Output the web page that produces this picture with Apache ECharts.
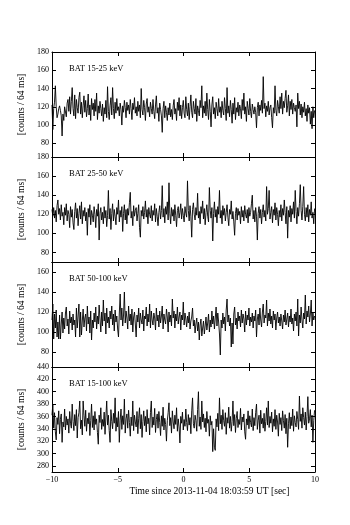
<!DOCTYPE html>
<html>
<head>
<meta charset="utf-8">
<script src="https://cdn.jsdelivr.net/npm/echarts@6/dist/echarts.min.js"></script>
<style>
  html,body{margin:0;padding:0;background:#fff;}
  #chart{width:350px;height:525px;}
</style>
</head>
<body>
<div id="chart"></div>
<script>
// light curve bins, 64 ms each, starting at -10 s
var binStart = -10;
var binWidth = 0.064;

var bands = ['BAT 15-25 keV', 'BAT 25-50 keV', 'BAT 50-100 keV', 'BAT 15-100 keV'];

var counts15_25 = [
  122,95,118,125,143,120,108,112,118,121,116,110,88,112,105,120,118,109,124,128,
  115,131,112,126,141,118,110,133,107,128,119,113,130,136,112,125,108,121,132,114,
  127,109,118,134,111,122,105,129,117,124,110,128,115,135,106,121,113,126,118,110,
  123,104,119,112,127,108,142,115,106,121,130,111,141,118,107,125,113,129,116,120,
  110,124,117,100,121,114,127,119,108,125,116,122,112,128,118,106,124,117,130,113,
  120,110,126,115,122,108,140,117,111,127,119,105,123,129,114,120,109,125,118,112,
  128,115,107,122,132,113,119,104,124,117,110,92,118,126,108,121,114,105,119,111,
  124,109,117,106,121,128,112,118,105,125,116,130,110,122,107,119,127,113,108,131,
  117,110,124,106,120,133,114,108,126,118,112,129,104,121,116,110,127,119,143,108,
  121,113,126,110,135,117,106,128,115,98,122,131,112,119,107,125,118,110,129,114,
  120,108,126,116,111,130,118,105,141,113,121,109,127,117,102,124,112,130,106,119,
  114,125,110,122,118,107,128,116,135,112,120,104,126,118,111,129,115,108,123,117,
  112,120,114,97,119,125,110,122,116,127,113,153,118,124,109,121,115,126,111,119,
  122,108,97,119,113,143,116,110,127,120,113,131,118,135,112,126,119,129,138,114,
  121,133,110,126,117,128,112,124,119,115,122,98,135,118,126,111,123,108,120,114,
  125,110,118,104,122,113,119,101,115,96,120,108,116
];

var counts25_50 = [
  125,118,127,116,124,112,129,135,120,126,114,130,118,122,109,127,119,131,113,124,
  120,106,128,117,125,111,104,123,132,116,126,108,121,129,115,133,110,124,118,127,
  113,122,98,126,117,130,109,124,119,112,128,120,106,125,118,131,93,121,127,114,
  122,110,128,116,124,107,119,145,115,126,104,121,131,113,125,118,109,127,120,135,
  112,124,117,128,102,121,130,114,125,110,126,119,132,143,116,123,108,129,118,124,
  127,113,121,130,106,96,124,118,128,115,122,134,117,125,110,127,120,116,129,113,
  124,119,131,112,126,118,108,122,129,115,124,150,117,126,111,128,120,133,114,153,
  121,110,127,118,125,113,130,119,107,124,128,116,122,131,115,126,119,112,128,121,
  117,155,124,113,129,118,96,125,132,120,114,127,119,142,116,123,110,128,121,134,
  115,126,109,122,130,118,112,148,124,116,127,92,121,133,117,125,111,128,120,145,
  116,124,110,129,119,126,113,122,130,117,108,125,120,134,115,123,112,98,121,127,
  114,126,119,123,110,128,117,124,113,129,120,116,125,111,127,118,122,131,140,115,
  124,112,127,118,93,121,128,116,125,110,122,130,117,124,113,149,120,126,145,115,
  122,128,111,125,119,132,114,127,120,108,124,117,130,113,126,119,135,122,110,128,
  95,124,117,129,112,126,120,133,116,145,123,110,127,118,131,151,124,114,128,149,
  120,113,127,117,130,112,125,119,133,116,122,110,126
];

var counts50_100 = [
  112,128,93,118,104,122,95,110,93,117,93,108,120,99,114,103,119,125,106,113,
  98,121,109,115,102,118,107,112,95,124,104,116,128,95,120,97,111,123,105,114,
  118,101,126,108,115,99,121,92,112,104,119,110,125,103,116,108,127,113,100,120,
  106,132,111,119,98,124,109,115,104,121,113,126,107,118,101,122,110,116,103,95,
  119,138,112,124,106,117,140,109,121,114,103,126,111,118,107,123,100,115,120,108,
  95,117,110,124,104,119,112,108,122,101,116,113,125,106,118,110,128,104,121,112,
  107,119,114,102,124,111,117,105,121,109,116,126,103,118,112,108,123,115,100,120,
  110,117,106,133,114,121,104,118,111,125,108,115,120,102,117,112,130,107,119,113,
  105,116,109,120,103,111,115,124,106,112,99,108,114,101,110,92,107,113,96,104,
  111,98,106,115,102,109,118,100,112,105,121,108,116,103,114,125,106,119,110,98,
  77,112,104,119,108,115,101,122,133,110,117,106,114,85,109,88,118,125,107,114,
  103,120,111,116,105,122,109,118,113,100,121,107,117,112,124,106,115,110,119,104,
  116,111,122,95,113,118,107,124,112,105,120,128,109,117,114,132,106,119,111,123,
  108,116,104,121,112,118,102,114,120,109,115,106,118,111,103,117,110,122,107,113,
  119,105,116,110,123,108,114,101,118,111,120,106,133,96,117,109,125,112,104,119,
  113,137,108,121,115,126,110,118,132,106,119,112,116
];

var counts15_100 = [
  362,380,341,366,335,322,358,347,369,332,355,364,318,351,343,372,338,360,346,356,
  333,368,349,341,380,352,337,363,345,371,325,358,366,385,340,354,330,385,362,344,
  370,336,357,348,366,329,353,380,342,361,338,368,347,356,334,315,362,350,374,339,
  355,344,367,331,359,385,346,362,337,318,371,352,340,365,349,390,336,358,343,368,
  318,354,372,339,361,347,388,333,356,364,341,370,350,328,359,345,385,337,362,351,
  343,368,332,357,374,340,363,326,352,369,345,360,335,371,348,357,330,366,385,342,
  359,346,373,334,355,364,341,368,350,329,361,344,375,338,357,347,320,353,366,382,
  345,358,333,369,351,340,362,347,374,336,356,343,317,360,349,367,338,355,344,372,
  350,337,363,346,358,332,369,390,348,341,362,353,336,371,400,344,359,339,385,351,
  364,342,357,335,368,349,355,328,361,346,352,303,340,310,305,356,343,365,337,390,
  348,362,339,371,353,344,366,331,358,349,375,341,360,336,352,385,345,363,334,357,
  368,342,355,347,373,338,359,351,364,335,323,356,346,369,340,361,350,343,372,337,
  358,345,366,380,339,354,362,333,370,348,357,341,365,336,352,374,346,385,342,360,
  349,367,335,356,344,371,339,362,351,328,365,347,358,337,369,353,341,363,332,357,
  310,348,366,340,359,345,372,336,361,350,343,368,355,339,393,352,364,341,374,358,
  346,367,338,360,392,349,356,371,343,362,318,353,370
];

var allCounts = [counts15_25, counts25_50, counts50_100, counts15_100];

var yMin = [65, 70, 65, 270];
var yMax = [180, 180, 170, 440];
var yTicks = [
  [80, 100, 120, 140, 160, 180],
  [80, 100, 120, 140, 160, 180],
  [80, 100, 120, 140, 160],
  [280, 300, 320, 340, 360, 380, 400, 420, 440]
];
var xTicks = [-10, -5, 0, 5, 10];

var gridTop = [52, 157, 262, 367];
var font = 'Liberation Serif';

var grids = [], xAxes = [], yAxes = [], series = [], titles = [];

for (var p = 0; p < 4; p++) {
  grids.push({left: 52, right: 35, top: gridTop[p], height: 105});

  // bottom and top x axes (ticks inside on both)
  xAxes.push({
    type: 'value', gridIndex: p, position: 'bottom',
    min: -10, max: 10, interval: 5,
    axisLine: {show: true, onZero: false, lineStyle: {color: '#000', width: p === 3 ? 1 : 1.2}},
    axisTick: {show: true, inside: true, length: 4, lineStyle: {color: '#000'}},
    axisLabel: {
      show: p === 3, color: '#000', fontFamily: font, fontSize: 8, margin: 4,
      formatter: function (v) { return String(v).replace('-', '\u2212'); }
    },
    splitLine: {show: false},
    name: p === 3 ? 'Time since 2013-11-04 18:03:59 UT [sec]' : '',
    nameLocation: 'middle', nameGap: 14,
    nameTextStyle: {color: '#000', fontFamily: font, fontSize: 9.5, padding: [0, 0, 0, 52]}
  });
  xAxes.push({
    type: 'value', gridIndex: p, position: 'top',
    min: -10, max: 10, interval: 5,
    axisLine: {show: true, onZero: false, lineStyle: {color: '#000', width: p === 0 ? 1 : 1.2}},
    axisTick: {show: true, inside: true, length: 4, lineStyle: {color: '#000'}},
    axisLabel: {show: false},
    splitLine: {show: false}
  });

  // left and right y axes
  yAxes.push({
    type: 'value', gridIndex: p, position: 'left',
    min: yMin[p], max: yMax[p],
    axisLine: {show: true, onZero: false, lineStyle: {color: '#000', width: 1}},
    axisTick: {show: true, inside: true, length: 4, customValues: yTicks[p], lineStyle: {color: '#000'}},
    axisLabel: {show: true, customValues: yTicks[p], color: '#000', fontFamily: font, fontSize: 8, margin: 3},
    splitLine: {show: false},
    name: '[counts / 64 ms]', nameLocation: 'middle', nameGap: 15,
    nameTextStyle: {color: '#000', fontFamily: font, fontSize: 9.5}
  });
  yAxes.push({
    type: 'value', gridIndex: p, position: 'right',
    min: yMin[p], max: yMax[p],
    axisLine: {show: true, onZero: false, lineStyle: {color: '#000', width: 1}},
    axisTick: {show: true, inside: true, length: 4, customValues: yTicks[p], lineStyle: {color: '#000'}},
    axisLabel: {show: false},
    splitLine: {show: false}
  });

  var pts = allCounts[p].map(function (v, i) {
    return [binStart + i * binWidth, v];
  });
  series.push({
    type: 'line', step: 'end',
    xAxisIndex: p * 2, yAxisIndex: p * 2,
    data: pts, symbol: 'none', clip: true,
    lineStyle: {color: '#000', width: 0.9},
    animation: false
  });

  titles.push({
    text: bands[p], left: 64, top: gridTop[p] + 7,
    textStyle: {color: '#000', fontFamily: font, fontSize: 8.5, fontWeight: 'normal'}
  });
}

var myChart = echarts.init(document.getElementById('chart'));
myChart.setOption({
  backgroundColor: '#fff',
  animation: false,
  title: titles,
  grid: grids,
  xAxis: xAxes,
  yAxis: yAxes,
  series: series
});
</script>
</body>
</html>
